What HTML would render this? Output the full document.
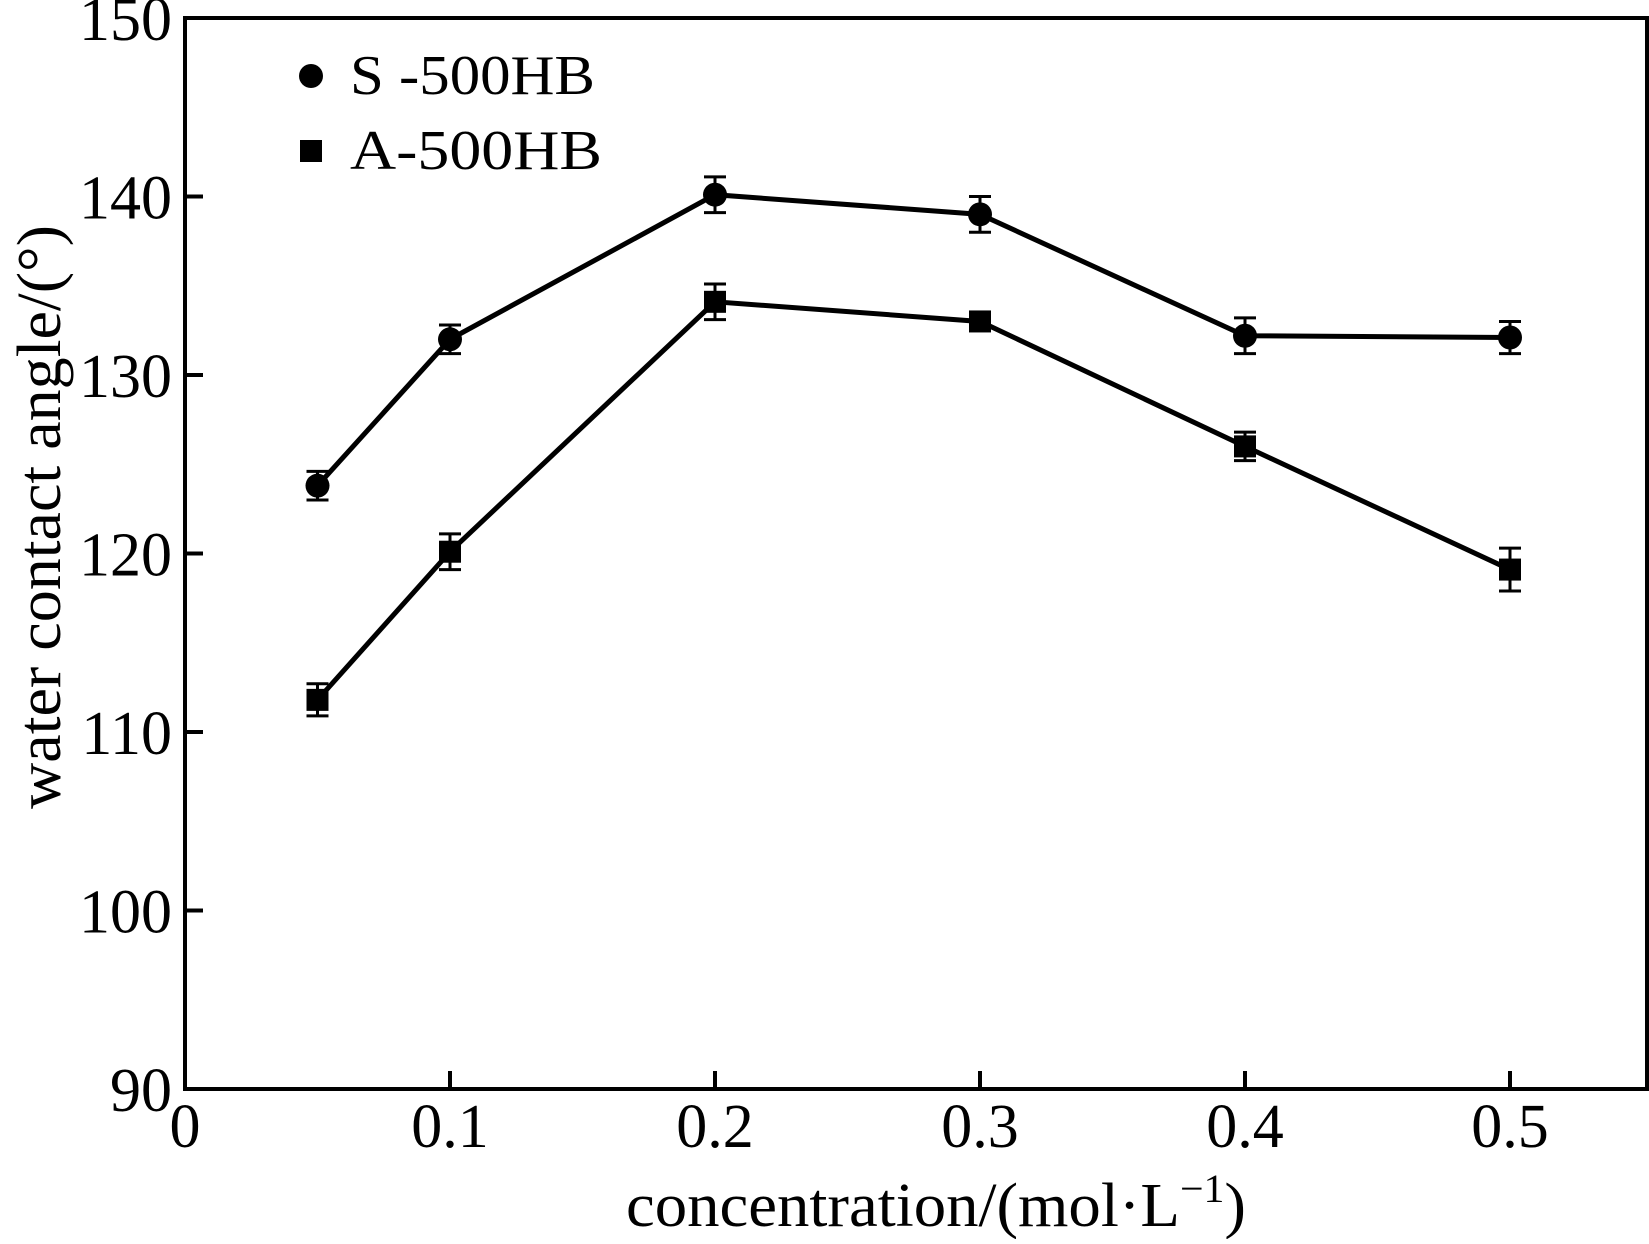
<!DOCTYPE html>
<html><head><meta charset="utf-8"><style>
html,body{margin:0;padding:0;background:#fff}
svg text{font-family:"Liberation Serif",serif;fill:#000}
</style></head><body>
<svg id="chart" width="1649" height="1239" viewBox="0 0 1649 1239" xmlns="http://www.w3.org/2000/svg">
<g id="axes"></g>
<g id="series"></g>
<g>
<circle cx="311" cy="76" r="12" fill="#000"/>
<text x="350" y="94" font-size="56" textLength="245" lengthAdjust="spacingAndGlyphs">S -500HB</text>
<rect x="300" y="140" width="22" height="22" fill="#000"/>
<text x="350" y="169" font-size="56" textLength="252" lengthAdjust="spacingAndGlyphs">A-500HB</text>
</g>
<text x="936" y="1226" font-size="62" text-anchor="middle" textLength="620" lengthAdjust="spacingAndGlyphs">concentration/(mol·L<tspan dy="-24" font-size="40">−1</tspan><tspan dy="24">)</tspan></text>
<text transform="translate(60,517) rotate(-90)" font-size="62" text-anchor="middle" textLength="584" lengthAdjust="spacingAndGlyphs">water contact angle/(°)</text>
</svg>
<script>
const xVals=[0.05,0.1,0.2,0.3,0.4,0.5];
const sValues=[123.8,132,140.1,139,132.2,132.1];
const sErr=[0.8,0.8,1,1,1,0.9];
const aValues=[111.8,120.1,134.1,133,126,119.1];
const aErr=[0.9,1,1,0.5,0.8,1.2];
const xTicks=[0,0.1,0.2,0.3,0.4,0.5];
const yTicks=[90,100,110,120,130,140,150];
const NS='http://www.w3.org/2000/svg';
const L=185,R=1647,T=18,B=1089;
const xs=v=>L+v*2650;
const ys=v=>B-(v-90)/60*(B-T);
function mk(tag,attrs,parent){const e=document.createElementNS(NS,tag);for(const k in attrs)e.setAttribute(k,attrs[k]);parent.appendChild(e);return e;}
const ax=document.getElementById('axes');
const frame=mk('rect',{x:L,y:T,width:R-L,height:B-T,fill:'none',stroke:'#000','stroke-width':4},ax);


xTicks.forEach(t=>{
 const x=xs(t);
 if(t>0){const l=mk('line',{x1:x,x2:x,y1:B,y2:B-18,stroke:'#000','stroke-width':4},ax);
 
 }
 const tx=mk('text',{x:x,y:1147,'font-size':62,'text-anchor':'middle'},ax);tx.textContent=String(t);
 
 
});
yTicks.forEach(t=>{
 const y=ys(t);
 if(t>90&&t<150){const l=mk('line',{x1:L,x2:L+18,y1:y,y2:y,stroke:'#000','stroke-width':4},ax);
 
 }
 const tx=mk('text',{x:172,y:y+22,'font-size':62,'text-anchor':'end'},ax);tx.textContent=String(t);
 
 
});
const sg=document.getElementById('series');
function series(vals,errs,shape,name){
 const pts=xVals.map((x,i)=>xs(x)+','+ys(vals[i])).join(' ');
 const pl=mk('polyline',{points:pts,fill:'none',stroke:'#000','stroke-width':5},sg);
 
 
 xVals.forEach((x,i)=>{
  const cx=xs(x),cy=ys(vals[i]),e1=ys(vals[i]+errs[i]),e2=ys(vals[i]-errs[i]);
  const eb=mk('path',{d:`M${cx},${e1}V${e2}M${cx-11},${e1}H${cx+11}M${cx-11},${e2}H${cx+11}`,stroke:'#000','stroke-width':3,fill:'none'},sg);
  
  
  let m;
  if(shape==='c')m=mk('circle',{cx:cx,cy:cy,r:12,fill:'#000'},sg);
  else m=mk('rect',{x:cx-11,y:cy-11,width:22,height:22,fill:'#000'},sg);
  
  
 });
}
series(sValues,sErr,'c','s500hb');
series(aValues,aErr,'s','a500hb');
</script>
</body></html>
